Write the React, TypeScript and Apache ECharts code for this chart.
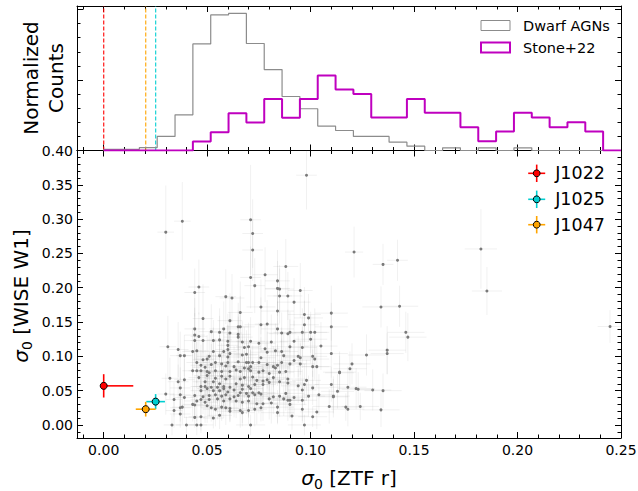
import React, { useEffect, useRef } from 'react';
import * as echarts from 'echarts';

const FONT = 'DejaVu Sans';
const X_MIN = -0.0129;
const X_MAX = 0.25;
const Y_MIN = -0.019;
const Y_MAX = 0.4;
const H_MAX = 10.25;

const xTickValues = [0, 0.05, 0.1, 0.15, 0.2, 0.25];
const yTickValues = [0, 0.05, 0.1, 0.15, 0.2, 0.25, 0.3, 0.35, 0.4];
const histTickValues = [0, 5, 10];

// histogram (normalized counts, arbitrary units), bins of equal width from 0
const binWidth = 0.00862;
const dwarfHist = [0.08, 0.08, 0.21, 1.0, 2.53, 7.56, 9.62, 9.72, 7.59, 5.74, 3.83, 2.96, 1.73, 1.42, 1.0, 1.0, 0.59, 0.31, 0, 0.19, 0, 0.19, 0, 0.19, 0, 0, 0, 0, 0];
const stoneHist = [0, 0, 0, 0, 0, 0.64, 1.3, 2.65, 1.99, 3.66, 2.32, 3.66, 5.32, 4.33, 4.0, 2.34, 2.34, 3.66, 2.67, 2.67, 1.65, 0.66, 1.35, 2.67, 2.34, 1.65, 2.0, 1.35, 0];

// highlighted objects
const specialNames = ['J1022', 'J1025', 'J1047'];
const specialColors = ['#ff0000', '#00ced1', '#ffa500'];
const specialX = [0.0, 0.0251, 0.0203];
const specialY = [0.057, 0.034, 0.023];
const specialXErrLow = [0.0, 0.0045, 0.0048];
const specialXErrHigh = [0.0143, 0.0045, 0.0048];
const specialYErr = [0.017, 0.011, 0.0107];

// dwarf AGNs: [sigma ZTF r, sigma WISE W1, xerr, yerr]
const agnPoints: number[][] = [
  [0.076, 0.172, 0.007, 0.04], [0.066, 0.164, 0.006, 0.045], [0.084, 0.166, 0.008, 0.035], [0.048, 0.155, 0.005, 0.05],
  [0.061, 0.152, 0.006, 0.04], [0.065, 0.143, 0.005, 0.035], [0.066, 0.143, 0.007, 0.045], [0.076, 0.146, 0.008, 0.04],
  [0.079, 0.147, 0.006, 0.035], [0.044, 0.14, 0.005, 0.045], [0.052, 0.136, 0.006, 0.04], [0.056, 0.135, 0.005, 0.035],
  [0.058, 0.14, 0.007, 0.04], [0.061, 0.134, 0.006, 0.03], [0.084, 0.14, 0.008, 0.04], [0.089, 0.133, 0.009, 0.035],
  [0.086, 0.134, 0.007, 0.03], [0.044, 0.131, 0.005, 0.04], [0.046, 0.129, 0.004, 0.035], [0.065, 0.132, 0.006, 0.035],
  [0.065, 0.128, 0.007, 0.03], [0.044, 0.123, 0.005, 0.04], [0.048, 0.123, 0.006, 0.035], [0.053, 0.123, 0.005, 0.03],
  [0.056, 0.124, 0.006, 0.035], [0.06, 0.122, 0.007, 0.04], [0.067, 0.121, 0.006, 0.03], [0.071, 0.122, 0.007, 0.035],
  [0.075, 0.119, 0.008, 0.03], [0.07, 0.114, 0.006, 0.035], [0.081, 0.121, 0.008, 0.04], [0.06, 0.116, 0.005, 0.03],
  [0.06, 0.11, 0.006, 0.035], [0.068, 0.113, 0.007, 0.03], [0.031, 0.114, 0.004, 0.045], [0.036, 0.11, 0.005, 0.04],
  [0.043, 0.107, 0.005, 0.035], [0.045, 0.108, 0.006, 0.03], [0.053, 0.107, 0.005, 0.035], [0.058, 0.107, 0.006, 0.03],
  [0.078, 0.111, 0.007, 0.035], [0.079, 0.106, 0.008, 0.03], [0.083, 0.108, 0.007, 0.04], [0.086, 0.107, 0.008, 0.035],
  [0.09, 0.114, 0.009, 0.04], [0.061, 0.104, 0.006, 0.03], [0.037, 0.101, 0.005, 0.035], [0.039, 0.101, 0.004, 0.03],
  [0.051, 0.1, 0.006, 0.035], [0.056, 0.101, 0.005, 0.03], [0.06, 0.099, 0.006, 0.035], [0.067, 0.102, 0.007, 0.03],
  [0.069, 0.103, 0.006, 0.035], [0.076, 0.098, 0.007, 0.03], [0.087, 0.101, 0.008, 0.035], [0.048, 0.095, 0.005, 0.03],
  [0.05, 0.096, 0.006, 0.035], [0.045, 0.091, 0.005, 0.03], [0.054, 0.091, 0.006, 0.035], [0.057, 0.089, 0.005, 0.03],
  [0.06, 0.091, 0.006, 0.025], [0.065, 0.092, 0.007, 0.03], [0.069, 0.091, 0.006, 0.035], [0.07, 0.091, 0.007, 0.03],
  [0.072, 0.091, 0.006, 0.025], [0.075, 0.091, 0.008, 0.03], [0.079, 0.088, 0.007, 0.035], [0.082, 0.085, 0.008, 0.03],
  [0.083, 0.083, 0.007, 0.025], [0.084, 0.087, 0.008, 0.03], [0.086, 0.091, 0.009, 0.035], [0.09, 0.089, 0.008, 0.03],
  [0.047, 0.087, 0.005, 0.03], [0.049, 0.084, 0.006, 0.025], [0.052, 0.088, 0.005, 0.03], [0.059, 0.086, 0.006, 0.025],
  [0.063, 0.085, 0.007, 0.03], [0.068, 0.083, 0.006, 0.025], [0.07, 0.082, 0.007, 0.03], [0.071, 0.085, 0.006, 0.025],
  [0.043, 0.079, 0.005, 0.03], [0.045, 0.079, 0.004, 0.025], [0.047, 0.079, 0.005, 0.03], [0.05, 0.078, 0.006, 0.025],
  [0.051, 0.076, 0.005, 0.03], [0.054, 0.079, 0.006, 0.025], [0.057, 0.078, 0.005, 0.03], [0.061, 0.078, 0.006, 0.025],
  [0.064, 0.08, 0.007, 0.03], [0.066, 0.078, 0.006, 0.025], [0.071, 0.079, 0.007, 0.03], [0.075, 0.077, 0.006, 0.025],
  [0.077, 0.079, 0.007, 0.03], [0.08, 0.075, 0.008, 0.025], [0.085, 0.077, 0.007, 0.03], [0.088, 0.078, 0.008, 0.035],
  [0.046, 0.069, 0.005, 0.025], [0.05, 0.072, 0.006, 0.03], [0.054, 0.068, 0.005, 0.025], [0.057, 0.071, 0.006, 0.03],
  [0.059, 0.067, 0.005, 0.025], [0.061, 0.071, 0.006, 0.03], [0.066, 0.067, 0.007, 0.025], [0.068, 0.069, 0.006, 0.03],
  [0.072, 0.07, 0.007, 0.025], [0.074, 0.065, 0.006, 0.03], [0.077, 0.064, 0.007, 0.025], [0.079, 0.066, 0.008, 0.03],
  [0.082, 0.069, 0.007, 0.025], [0.085, 0.063, 0.008, 0.03], [0.089, 0.067, 0.009, 0.03], [0.032, 0.068, 0.004, 0.03],
  [0.036, 0.063, 0.005, 0.025], [0.039, 0.066, 0.005, 0.03], [0.049, 0.063, 0.006, 0.025], [0.053, 0.063, 0.005, 0.03],
  [0.056, 0.06, 0.006, 0.025], [0.058, 0.056, 0.005, 0.03], [0.064, 0.06, 0.006, 0.025], [0.067, 0.058, 0.007, 0.03],
  [0.07, 0.056, 0.006, 0.025], [0.073, 0.059, 0.007, 0.03], [0.077, 0.059, 0.006, 0.025], [0.08, 0.062, 0.008, 0.03],
  [0.089, 0.061, 0.008, 0.025], [0.047, 0.056, 0.005, 0.025], [0.049, 0.056, 0.006, 0.03], [0.05, 0.053, 0.005, 0.025],
  [0.052, 0.055, 0.006, 0.03], [0.055, 0.055, 0.005, 0.025], [0.058, 0.053, 0.006, 0.03], [0.061, 0.055, 0.007, 0.025],
  [0.063, 0.051, 0.006, 0.03], [0.067, 0.052, 0.007, 0.025], [0.071, 0.053, 0.006, 0.03], [0.072, 0.047, 0.007, 0.025],
  [0.075, 0.047, 0.008, 0.03], [0.037, 0.054, 0.005, 0.03], [0.047, 0.05, 0.005, 0.025], [0.053, 0.05, 0.006, 0.03],
  [0.056, 0.05, 0.005, 0.025], [0.06, 0.048, 0.006, 0.03], [0.066, 0.047, 0.007, 0.025], [0.069, 0.046, 0.006, 0.03],
  [0.076, 0.045, 0.007, 0.025], [0.03, 0.045, 0.004, 0.03], [0.037, 0.044, 0.005, 0.025], [0.044, 0.043, 0.005, 0.03],
  [0.048, 0.041, 0.006, 0.025], [0.051, 0.043, 0.005, 0.03], [0.054, 0.044, 0.006, 0.025], [0.057, 0.042, 0.005, 0.03],
  [0.059, 0.044, 0.006, 0.025], [0.063, 0.041, 0.007, 0.03], [0.065, 0.043, 0.006, 0.025], [0.07, 0.042, 0.007, 0.03],
  [0.073, 0.044, 0.006, 0.025], [0.08, 0.038, 0.008, 0.03], [0.082, 0.041, 0.007, 0.025], [0.085, 0.042, 0.008, 0.03],
  [0.088, 0.046, 0.009, 0.025], [0.089, 0.036, 0.008, 0.03], [0.034, 0.037, 0.004, 0.025], [0.039, 0.04, 0.005, 0.03],
  [0.043, 0.03, 0.005, 0.025], [0.045, 0.035, 0.006, 0.03], [0.047, 0.037, 0.005, 0.025], [0.049, 0.033, 0.006, 0.03],
  [0.051, 0.037, 0.005, 0.025], [0.055, 0.038, 0.006, 0.03], [0.058, 0.035, 0.005, 0.025], [0.061, 0.038, 0.006, 0.03],
  [0.064, 0.035, 0.007, 0.025], [0.067, 0.033, 0.006, 0.03], [0.07, 0.035, 0.007, 0.025], [0.074, 0.031, 0.006, 0.03],
  [0.077, 0.031, 0.007, 0.025], [0.081, 0.032, 0.008, 0.03], [0.087, 0.038, 0.008, 0.025], [0.034, 0.021, 0.004, 0.025],
  [0.037, 0.025, 0.005, 0.02], [0.038, 0.026, 0.005, 0.025], [0.044, 0.029, 0.005, 0.02], [0.05, 0.028, 0.006, 0.025],
  [0.052, 0.025, 0.005, 0.02], [0.054, 0.023, 0.006, 0.025], [0.057, 0.026, 0.005, 0.02], [0.059, 0.025, 0.006, 0.025],
  [0.061, 0.024, 0.007, 0.02], [0.066, 0.021, 0.006, 0.025], [0.07, 0.021, 0.007, 0.02], [0.073, 0.023, 0.006, 0.025],
  [0.076, 0.025, 0.007, 0.02], [0.084, 0.026, 0.008, 0.025], [0.09, 0.03, 0.008, 0.02], [0.037, 0.016, 0.005, 0.02],
  [0.044, 0.011, 0.005, 0.015], [0.047, 0.012, 0.006, 0.02], [0.053, 0.01, 0.005, 0.015], [0.056, 0.014, 0.006, 0.02],
  [0.061, 0.02, 0.007, 0.015], [0.067, 0.018, 0.006, 0.02], [0.084, 0.018, 0.008, 0.015], [0.033, 0.0, 0.004, 0.015],
  [0.04, 0.0, 0.005, 0.012], [0.045, 0.0, 0.005, 0.015], [0.047, 0.0, 0.006, 0.012], [0.071, 0.0, 0.007, 0.015],
  [0.092, 0.179, 0.008, 0.035], [0.134, 0.172, 0.009, 0.03], [0.143, 0.173, 0.009, 0.03], [0.097, 0.161, 0.008, 0.04],
  [0.099, 0.156, 0.007, 0.035], [0.11, 0.163, 0.008, 0.04], [0.097, 0.146, 0.007, 0.035], [0.11, 0.143, 0.008, 0.035],
  [0.09, 0.135, 0.008, 0.03], [0.096, 0.135, 0.007, 0.035], [0.1, 0.135, 0.008, 0.03], [0.102, 0.135, 0.007, 0.035],
  [0.146, 0.135, 0.009, 0.03], [0.147, 0.128, 0.009, 0.035], [0.092, 0.122, 0.007, 0.03], [0.1, 0.125, 0.008, 0.035],
  [0.096, 0.113, 0.007, 0.03], [0.105, 0.115, 0.008, 0.035], [0.094, 0.1, 0.007, 0.03], [0.095, 0.098, 0.008, 0.025],
  [0.101, 0.1, 0.007, 0.03], [0.092, 0.094, 0.008, 0.025], [0.102, 0.096, 0.007, 0.03], [0.11, 0.104, 0.008, 0.035],
  [0.127, 0.102, 0.009, 0.03], [0.137, 0.109, 0.009, 0.035], [0.137, 0.104, 0.008, 0.03], [0.095, 0.089, 0.007, 0.03],
  [0.101, 0.085, 0.008, 0.025], [0.103, 0.085, 0.007, 0.03], [0.12, 0.089, 0.009, 0.03], [0.119, 0.082, 0.008, 0.025],
  [0.114, 0.077, 0.008, 0.03], [0.114, 0.076, 0.007, 0.025], [0.098, 0.065, 0.007, 0.03], [0.094, 0.057, 0.008, 0.025],
  [0.097, 0.059, 0.007, 0.03], [0.101, 0.054, 0.008, 0.025], [0.096, 0.051, 0.007, 0.03], [0.11, 0.059, 0.008, 0.025],
  [0.118, 0.055, 0.009, 0.03], [0.113, 0.049, 0.008, 0.025], [0.122, 0.053, 0.009, 0.03], [0.123, 0.052, 0.008, 0.025],
  [0.13, 0.051, 0.009, 0.03], [0.135, 0.05, 0.009, 0.025], [0.104, 0.044, 0.008, 0.03], [0.092, 0.04, 0.007, 0.025],
  [0.099, 0.042, 0.008, 0.03], [0.111, 0.042, 0.008, 0.025], [0.111, 0.041, 0.007, 0.03], [0.09, 0.036, 0.008, 0.025],
  [0.096, 0.036, 0.007, 0.03], [0.109, 0.027, 0.008, 0.025], [0.117, 0.026, 0.009, 0.02], [0.118, 0.023, 0.008, 0.025],
  [0.124, 0.027, 0.009, 0.02], [0.134, 0.022, 0.009, 0.025], [0.096, 0.023, 0.007, 0.02], [0.103, 0.019, 0.008, 0.025],
  [0.091, 0.013, 0.008, 0.02], [0.101, 0.012, 0.007, 0.015], [0.097, 0.0, 0.008, 0.015],
  [0.038, 0.297, 0.004, 0.057], [0.03, 0.281, 0.004, 0.068], [0.071, 0.299, 0.005, 0.08], [0.072, 0.279, 0.005, 0.05],
  [0.072, 0.255, 0.005, 0.045], [0.088, 0.231, 0.006, 0.04], [0.071, 0.215, 0.005, 0.045], [0.078, 0.219, 0.006, 0.04],
  [0.073, 0.203, 0.005, 0.04], [0.084, 0.21, 0.006, 0.045], [0.046, 0.201, 0.005, 0.04], [0.044, 0.193, 0.005, 0.035],
  [0.084, 0.199, 0.006, 0.04], [0.085, 0.198, 0.007, 0.035], [0.085, 0.188, 0.006, 0.04], [0.089, 0.188, 0.007, 0.035],
  [0.059, 0.187, 0.005, 0.04], [0.062, 0.185, 0.006, 0.035],
  [0.098, 0.364, 0.005, 0.05], [0.121, 0.252, 0.0044, 0.037], [0.135, 0.234, 0.005, 0.03], [0.142, 0.24, 0.005, 0.03],
  [0.095, 0.196, 0.006, 0.04],
  [0.1823, 0.2565, 0.0078, 0.058], [0.1852, 0.1952, 0.0073, 0.035], [0.2447, 0.1435, 0.006, 0.024],
];

function minorValues(from: number, to: number, step: number, every: number): number[] {
  const out: number[] = [];
  for (let k = Math.ceil(from / step); k * step <= to + 1e-9; k++) {
    if (k % every !== 0) out.push(+(k * step).toFixed(6));
  }
  return out;
}

const xMinor = minorValues(X_MIN, X_MAX, 0.01, 5);
const yMinor = minorValues(Y_MIN, Y_MAX, 0.01, 5);
const hMinor = minorValues(0, H_MAX, 1, 5);

function stepData(h: number[]): number[][] {
  const pts: number[][] = [[0, 0]];
  h.forEach((v, i) => {
    pts.push([i * binWidth, v]);
    pts.push([(i + 1) * binWidth, v]);
  });
  pts.push([h.length * binWidth, 0]);
  return pts;
}

const tickLine = { color: '#000', width: 1 };

function mkAxis(kind: 'x' | 'y', gridIndex: number, position: string, ticks: number[], len: number, line: boolean, label: boolean, min: number, max: number) {
  return {
    type: 'value',
    gridIndex,
    position,
    min,
    max,
    axisLine: { show: line, onZero: false, lineStyle: tickLine },
    axisTick: { show: true, inside: true, length: len, customValues: ticks, lineStyle: tickLine },
    axisLabel: label
      ? {
          show: true,
          customValues: ticks,
          formatter: (v: number) => v.toFixed(2),
          color: '#000',
          fontSize: 14,
          fontFamily: FONT,
          margin: kind === 'x' ? 5 : 4,
        }
      : { show: false },
    splitLine: { show: false },
    minorTick: { show: false },
    minorSplitLine: { show: false },
  };
}

const sigmaRich = {
  i: { fontSize: 20, fontFamily: FONT, fontStyle: 'italic', fill: '#000', lineHeight: 26, verticalAlign: 'middle' },
  s: { fontSize: 14, fontFamily: FONT, fill: '#000', lineHeight: 14, verticalAlign: 'bottom' },
  n: { fontSize: 20, fontFamily: FONT, fill: '#000', lineHeight: 26, verticalAlign: 'middle' },
};

export default function App() {
  const ref = useRef<HTMLDivElement>(null);

  useEffect(() => {
    if (!ref.current) return;
    const chart = echarts.init(ref.current, null, { renderer: 'svg' });

    const xAxis = [
      mkAxis('x', 0, 'bottom', xTickValues, 6, true, false, X_MIN, X_MAX),
      mkAxis('x', 0, 'top', xTickValues, 6, true, false, X_MIN, X_MAX),
      mkAxis('x', 0, 'bottom', xMinor, 3.5, false, false, X_MIN, X_MAX),
      mkAxis('x', 0, 'top', xMinor, 3.5, false, false, X_MIN, X_MAX),
      mkAxis('x', 1, 'bottom', xTickValues, 6, true, true, X_MIN, X_MAX),
      mkAxis('x', 1, 'top', xTickValues, 6, true, false, X_MIN, X_MAX),
      mkAxis('x', 1, 'bottom', xMinor, 3.5, false, false, X_MIN, X_MAX),
      mkAxis('x', 1, 'top', xMinor, 3.5, false, false, X_MIN, X_MAX),
    ];
    const yAxis = [
      mkAxis('y', 0, 'left', histTickValues, 6, true, false, 0, H_MAX),
      mkAxis('y', 0, 'right', histTickValues, 6, true, false, 0, H_MAX),
      mkAxis('y', 0, 'left', hMinor, 3.5, false, false, 0, H_MAX),
      mkAxis('y', 0, 'right', hMinor, 3.5, false, false, 0, H_MAX),
      mkAxis('y', 1, 'left', yTickValues, 6, true, true, Y_MIN, Y_MAX),
      mkAxis('y', 1, 'right', yTickValues, 6, true, false, Y_MIN, Y_MAX),
      mkAxis('y', 1, 'left', yMinor, 3.5, false, false, Y_MIN, Y_MAX),
      mkAxis('y', 1, 'right', yMinor, 3.5, false, false, Y_MIN, Y_MAX),
    ];

    const legendGraphics: any[] = [];
    const legendY = [173.3, 199.3, 224.7];
    specialNames.forEach((name, i) => {
      legendGraphics.push({
        type: 'group',
        x: 536.7,
        y: legendY[i],
        children: [
          { type: 'line', shape: { x1: -8.5, y1: 0, x2: 8.5, y2: 0 }, style: { stroke: specialColors[i], lineWidth: 1.6 } },
          { type: 'line', shape: { x1: 0, y1: -8.7, x2: 0, y2: 8.7 }, style: { stroke: specialColors[i], lineWidth: 1.6 } },
          { type: 'circle', shape: { cx: 0, cy: 0, r: 3.4 }, style: { fill: specialColors[i], stroke: '#000', lineWidth: 1 } },
          {
            type: 'text',
            x: 18.5,
            y: 0,
            style: { text: name, font: `17.5px ${FONT}`, fill: '#000', textAlign: 'left', textVerticalAlign: 'middle', align: 'left', verticalAlign: 'middle' },
          },
        ],
      });
    });

    const option: any = {
      animation: false,
      backgroundColor: '#ffffff',
      textStyle: { fontFamily: FONT },
      grid: [
        { left: 77, top: 6, width: 544, height: 144.5, containLabel: false, outerBoundsMode: 'none' },
        { left: 77, top: 150.5, width: 544, height: 287.5, containLabel: false, outerBoundsMode: 'none' },
      ],
      xAxis,
      yAxis,
      legend: [
        {
          orient: 'vertical',
          left: 480,
          top: 17,
          padding: 0,
          itemWidth: 29,
          itemHeight: 10,
          itemGap: 5,
          selectedMode: false,
          textStyle: { fontSize: 14.5, fontFamily: FONT, color: '#000', lineHeight: 17, padding: [0, 0, 0, 8] },
          data: [
            { name: 'Dwarf AGNs', icon: 'rect', itemStyle: { color: 'rgba(0,0,0,0)', borderColor: '#8c8c8c', borderWidth: 1 } },
            { name: 'Stone+22', icon: 'rect', itemStyle: { color: 'rgba(0,0,0,0)', borderColor: '#bf00bf', borderWidth: 2 } },
          ],
        },
      ],
      graphic: [
        {
          type: 'text',
          x: 43,
          y: 78,
          rotation: Math.PI / 2,
          style: {
            text: 'Normalized\nCounts',
            font: `20px ${FONT}`,
            fill: '#000',
            textAlign: 'center',
            textVerticalAlign: 'middle',
            align: 'center',
            verticalAlign: 'middle',
            lineHeight: 25,
          },
        },
        {
          type: 'text',
          x: 21,
          y: 296,
          rotation: Math.PI / 2,
          style: {
            text: '{i|σ}{s|0}{n| [WISE W1]}',
            fill: '#000',
            textAlign: 'center',
            textVerticalAlign: 'middle',
            align: 'center',
            verticalAlign: 'middle',
            rich: sigmaRich,
          },
        },
        {
          type: 'text',
          x: 349,
          y: 478,
          style: {
            text: '{i|σ}{s|0}{n| [ZTF r]}',
            fill: '#000',
            textAlign: 'center',
            textVerticalAlign: 'middle',
            align: 'center',
            verticalAlign: 'middle',
            rich: sigmaRich,
          },
        },
        ...legendGraphics,
      ],
      series: [
        {
          name: 'Dwarf AGNs',
          type: 'line',
          xAxisIndex: 0,
          yAxisIndex: 0,
          data: stepData(dwarfHist),
          showSymbol: false,
          symbol: 'none',
          clip: true,
          lineStyle: { color: '#8c8c8c', width: 1.2 },
          itemStyle: { color: '#8c8c8c' },
          z: 3,
        },
        {
          name: 'Stone+22',
          type: 'line',
          xAxisIndex: 0,
          yAxisIndex: 0,
          data: stepData(stoneHist),
          showSymbol: false,
          symbol: 'none',
          clip: true,
          lineStyle: { color: '#bf00bf', width: 2 },
          itemStyle: { color: '#bf00bf' },
          z: 4,
        },
        {
          name: 'special-lines',
          type: 'custom',
          xAxisIndex: 0,
          yAxisIndex: 0,
          clip: true,
          silent: true,
          data: specialX.map((x, i) => [x, i]),
          encode: { x: 0 },
          z: 2,
          renderItem: (params: any, api: any) => {
            const x = api.value(0);
            const col = specialColors[api.value(1)];
            const b = api.coord([x, 0]);
            const t = api.coord([x, H_MAX]);
            return {
              type: 'line',
              shape: { x1: b[0], y1: b[1], x2: t[0], y2: t[1] },
              style: { stroke: col, lineWidth: 1.3, lineDash: [4, 2], opacity: 0.85 },
            };
          },
        },
        {
          name: 'agn-errors',
          type: 'custom',
          xAxisIndex: 4,
          yAxisIndex: 4,
          clip: true,
          silent: true,
          data: agnPoints,
          encode: { x: 0, y: 1 },
          z: 1,
          renderItem: (params: any, api: any) => {
            const x = api.value(0);
            const y = api.value(1);
            const xe = api.value(2);
            const ye = api.value(3);
            const l = api.coord([x - xe, y]);
            const r = api.coord([x + xe, y]);
            const t = api.coord([x, y + ye]);
            const b = api.coord([x, y - ye]);
            const st = { stroke: 'rgba(128,128,128,0.11)', lineWidth: 1 };
            return {
              type: 'group',
              children: [
                { type: 'line', shape: { x1: l[0], y1: l[1], x2: r[0], y2: r[1] }, style: st },
                { type: 'line', shape: { x1: t[0], y1: t[1], x2: b[0], y2: b[1] }, style: st },
              ],
            };
          },
        },
        {
          name: 'agn',
          type: 'scatter',
          xAxisIndex: 4,
          yAxisIndex: 4,
          data: agnPoints.map((p) => [p[0], p[1]]),
          symbol: 'circle',
          symbolSize: 3,
          itemStyle: { color: '#7a7a7a', opacity: 1 },
          z: 2,
        },
        {
          name: 'special-errors',
          type: 'custom',
          xAxisIndex: 4,
          yAxisIndex: 4,
          clip: true,
          silent: true,
          data: specialX.map((x, i) => [x, specialY[i], specialXErrLow[i], specialXErrHigh[i], specialYErr[i], i]),
          encode: { x: 0, y: 1 },
          z: 5,
          renderItem: (params: any, api: any) => {
            const x = api.value(0);
            const y = api.value(1);
            const col = specialColors[api.value(5)];
            const l = api.coord([x - api.value(2), y]);
            const r = api.coord([x + api.value(3), y]);
            const t = api.coord([x, y + api.value(4)]);
            const b = api.coord([x, y - api.value(4)]);
            const st = { stroke: col, lineWidth: 1.6 };
            return {
              type: 'group',
              children: [
                { type: 'line', shape: { x1: l[0], y1: l[1], x2: r[0], y2: r[1] }, style: st },
                { type: 'line', shape: { x1: t[0], y1: t[1], x2: b[0], y2: b[1] }, style: st },
              ],
            };
          },
        },
        ...specialNames.map((name, i) => ({
          name,
          type: 'scatter',
          xAxisIndex: 4,
          yAxisIndex: 4,
          data: [[specialX[i], specialY[i]]],
          symbol: 'circle',
          symbolSize: 7,
          itemStyle: { color: specialColors[i], borderColor: '#000', borderWidth: 1, opacity: 1 },
          z: 6,
        })),
      ],
    };

    chart.setOption(option);
    return () => chart.dispose();
  }, []);

  return (
    <div
      ref={ref}
      style={{ position: 'fixed', left: 0, top: 0, width: 638, height: 491, background: '#ffffff' }}
    />
  );
}
